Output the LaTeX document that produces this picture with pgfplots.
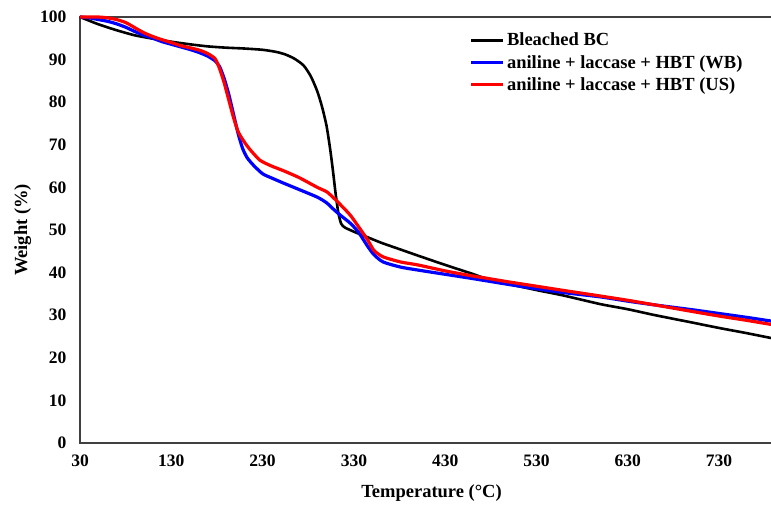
\documentclass[border=0pt]{standalone}
\usepackage{fontspec}
\setmainfont{Liberation Serif}
\usepackage{pgfplots}
\pgfplotsset{compat=1.18}
\usetikzlibrary{calc}
\definecolor{axgray}{HTML}{404040}
\definecolor{myblue}{HTML}{0000FF}
\definecolor{myred}{HTML}{FF0000}
\begin{document}
\begin{tikzpicture}
\begin{axis}[name=ax, scale only axis, width=703pt, height=426pt,
  xmin=30, xmax=800, ymin=0, ymax=100,
  xtick={30,130,...,730}, ytick={0,10,...,100},
  major tick length=0pt,
  axis line style={draw=axgray, line width=1.4pt},
  /pgf/number format/assume math mode=true,
  ticklabel style={font=\bfseries\fontsize{17.5}{20}\selectfont},
  xticklabel style={yshift=-8pt},
  yticklabel style={xshift=-10pt},
  xlabel={Temperature (°C)}, ylabel={Weight (\%)},
  label style={font=\bfseries\fontsize{18.5}{22}\selectfont},
  xlabel style={at={(axis description cs:0.5,-0.1174)}, anchor=center},
  ylabel style={at={(axis description cs:-0.0815,0.5)}, anchor=center},
  clip=false,
  legend cell align=left,
  legend image code/.code={\draw[#1] (0pt,0pt) -- (32pt,0pt);},
  legend style={draw=none, fill=none, at={(0.55,0.971)}, anchor=north west,
    font=\bfseries\fontsize{18.5}{22}\selectfont, row sep=5pt,
    nodes={inner xsep=2pt, inner ysep=1.5pt}},
]
\addplot[black, line width=2.6pt, smooth, tension=0.4] coordinates {
(30,100)(50,98.3)(70,96.9)(90,95.7)(110,94.9)(130,94.2)(150,93.6)(170,93.1)
(190,92.8)(210,92.6)(230,92.3)(245,91.8)(255,91.2)(265,90.2)(275,88.6)
(283,86)(290,82.5)(295,79)(300,74.5)(304,69)(307,64)(310,58.5)(313,54)
(316,51.5)(320,50.6)(330,49.6)(345,48.3)(360,47)(380,45.5)(400,44)
(430,41.8)(460,39.7)(472,38.8)(500,37.3)(530,35.9)(560,34.6)(600,32.6)
(630,31.4)(660,30)(700,28.3)(730,27)(760,25.8)(788,24.6)(800,24.2)};
\addlegendentry{Bleached BC}
\addplot[myblue, line width=3.2pt, smooth, tension=0.4] coordinates {
(30,100)(40,99.8)(50,99.4)(60,99)(70,98.4)(80,97.6)(90,96.6)(100,95.7)
(110,95)(120,94.2)(130,93.6)(140,93)(150,92.4)(160,91.7)(170,90.8)
(178,89.7)(183,88.3)(188,85.5)(193,81.8)(198,77.3)(203,72.8)(208,69.2)
(213,67)(220,65.2)(230,63.2)(240,62.2)(253,61)(270,59.5)(290,57.7)
(300,56.4)(307,55)(315,53.5)(326,51.6)(335,49.5)(345,46.2)(352,44.2)
(362,42.5)(381,41.3)(400,40.6)(430,39.6)(460,38.6)(500,37.2)(530,36.2)
(560,35.3)(600,34.3)(630,33.3)(660,32.4)(700,31.3)(730,30.4)(760,29.5)
(788,28.6)(800,28.3)};
\addlegendentry{aniline + laccase + HBT (WB)}
\addplot[myred, line width=3.2pt, smooth, tension=0.4] coordinates {
(30,100)(50,100)(60,99.8)(70,99.4)(80,98.7)(90,97.5)(100,96.3)(110,95.4)
(118,94.8)(130,94)(140,93.3)(150,92.8)(161,92.2)(170,91.4)(178,90.2)
(183,87.8)(188,84.5)(193,80.5)(198,76.5)(203,73.2)(208,71.3)(215,69.2)
(227,66.4)(240,65)(253,63.9)(270,62.3)(290,60)(300,59)(307,57.7)(315,56)
(326,53.5)(335,50.8)(345,47.7)(352,45.2)(362,43.7)(381,42.5)(400,41.8)
(430,40.4)(460,39.2)(472,38.8)(500,37.8)(530,36.8)(560,35.8)(600,34.5)
(630,33.5)(660,32.4)(700,30.9)(730,29.8)(760,28.8)(788,27.8)(800,27.5)};
\addlegendentry{aniline + laccase + HBT (US)}
\end{axis}
\pgfresetboundingbox
\path[use as bounding box] ($(ax.south west)+(-80pt,-61pt)$) rectangle ($(ax.south west)+(691pt,443pt)$);
\end{tikzpicture}
\end{document}
